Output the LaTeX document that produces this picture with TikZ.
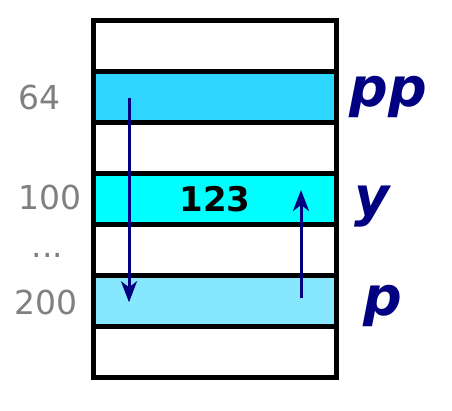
\documentclass[tikz,border=0pt]{standalone}
\usepackage{fontspec}
\setmainfont{DejaVu Sans}
\usetikzlibrary{positioning,arrows.meta}
\definecolor{ppblue}{RGB}{46,213,255}
\definecolor{ycyan}{RGB}{0,255,255}
\definecolor{pblue}{RGB}{135,231,255}
\definecolor{ptrnavy}{RGB}{0,0,128}
\definecolor{addrgray}{RGB}{128,128,128}
\tikzset{>={Stealth[length=21pt,width=16pt,inset=6pt]}}

\begin{document}
\begin{tikzpicture}[x=1pt,y=1pt,
    cell/.style={draw,line width=5pt,minimum width=243pt,minimum height=51.14pt,inner sep=0pt,outer sep=0pt},
    addr/.style={text=addrgray,font=\fontsize{33}{36}\selectfont},
    varname/.style={text=ptrnavy,font=\fontsize{54}{60}\selectfont\bfseries\itshape,anchor=base west},
    ptr/.style={->,ptrnavy,line width=3pt}]
    \useasboundingbox (0,0) rectangle (452,-410);
    % memory cells
    \node[cell] (top) at (214.5,-45.57) {};
    \node[cell,fill=ppblue,below=0pt of top] (pp) {};
    \node[cell,below=0pt of pp] (gapa) {};
    \node[cell,fill=ycyan,below=0pt of gapa] (y) {};
    \node[cell,below=0pt of y] (gapb) {};
    \node[cell,fill=pblue,below=0pt of gapb] (p) {};
    \node[cell,below=0pt of p] (bottom) {};
    \node[font=\fontsize{34}{36}\selectfont\bfseries] (val) at ([xshift=0.5pt]y) {123};
    % addresses
    \node[addr] (a64) at (39.5,-97.5) {64};
    \node[addr] (a100) at (50,-197.5) {100};
    \node[addr,anchor=base] (adots) at (47.5,-257) {...};
    \node[addr] (a200) at (46,-302.5) {200};
    % variable names
    \node[varname] (npp) at (346,-106) {pp};
    \node[varname] (ny) at (351,-215) {y};
    \node[varname] (np) at (360,-315) {p};
    % pointers
    \draw[ptr] ([xshift=36pt,yshift=-1pt]pp.west) -- ([xshift=36pt,yshift=-1pt]p.west);
    \draw[ptr] ([xshift=-35pt,yshift=3pt]p.east) -- ([xshift=-35pt,yshift=9pt]y.east);
\end{tikzpicture}
\end{document}
